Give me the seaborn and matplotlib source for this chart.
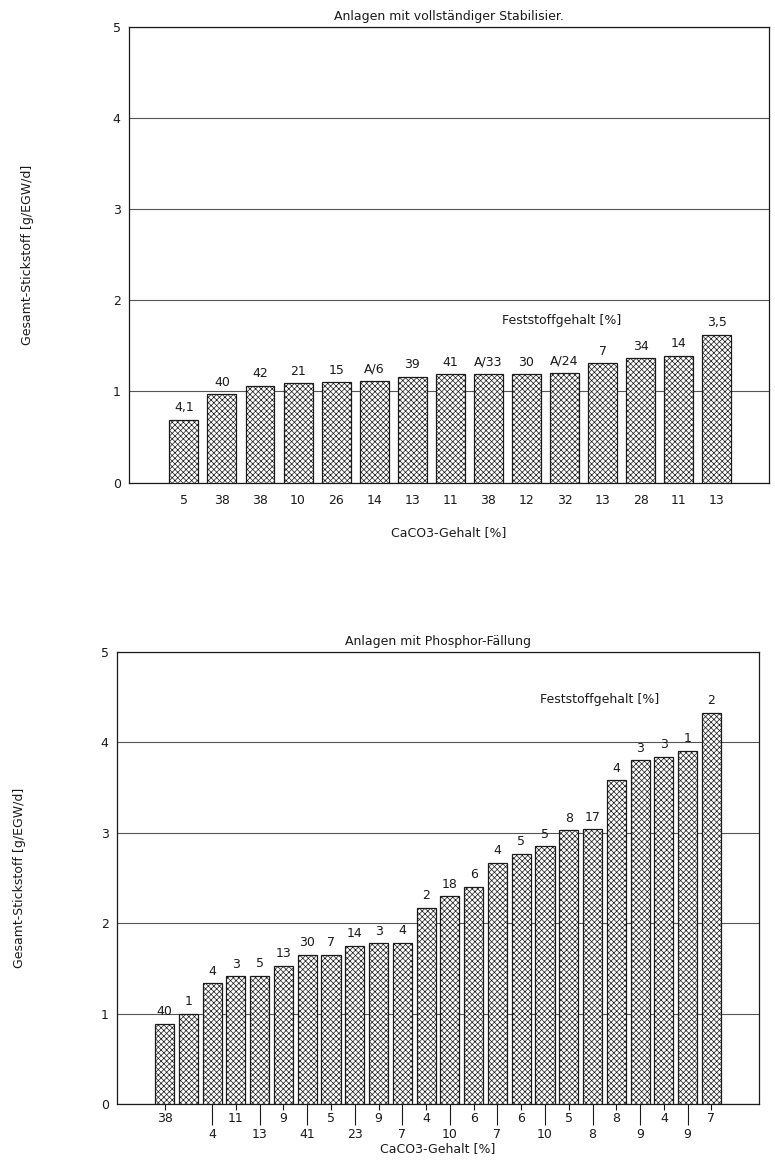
import matplotlib
matplotlib.use("Agg")
import matplotlib.pyplot as plt
import pandas as pd
import seaborn as sns

# Upper panel: plants with complete sludge stabilisation
stab_title = "Anlagen mit vollständiger Stabilisier."
stab_n_total = [0.69, 0.97, 1.06, 1.09, 1.10, 1.11, 1.16, 1.19, 1.19, 1.19,
                1.20, 1.31, 1.365, 1.39, 1.62]
stab_solids = ["4,1", "40", "42", "21", "15", "A/6", "39", "41", "A/33", "30",
               "A/24", "7", "34", "14", "3,5"]
stab_caco3 = ["5", "38", "38", "10", "26", "14", "13", "11", "38", "12",
              "32", "13", "28", "11", "13"]

# Lower panel: plants with phosphorus precipitation
phos_title = "Anlagen mit Phosphor-Fällung"
phos_n_total = [0.89, 1.00, 1.335, 1.415, 1.42, 1.53, 1.65, 1.65, 1.75, 1.78,
                1.785, 2.17, 2.30, 2.40, 2.67, 2.765, 2.85, 3.03, 3.04, 3.58,
                3.80, 3.84, 3.91, 4.33]
phos_solids = ["40", "1", "4", "3", "5", "13", "30", "7", "14", "3", "4", "2",
               "18", "6", "4", "5", "5", "8", "17", "4", "3", "3", "1", "2"]
phos_caco3 = ["38", "", "4", "11", "13", "9", "41", "5", "23", "9", "7", "4",
              "10", "6", "7", "6", "10", "5", "8", "8", "9", "4", "9", "7"]

y_label = "Gesamt-Stickstoff [g/EGW/d]"
x_label = "CaCO3-Gehalt [%]"
solids_label = "Feststoffgehalt [%]"
y_ticks = [0, 1, 2, 3, 4, 5]

sns.set_style("white")
plt.rcParams["font.family"] = ["DejaVu Sans"]
plt.rcParams["hatch.linewidth"] = 0.5
plt.rcParams["hatch.color"] = "#222222"

INK = "#1a1a1a"
GRID = "#555555"
FS = 9


def draw_panel(ax, values, solids, width, title):
    df = pd.DataFrame({"pos": list(range(len(values))), "n": values})
    sns.barplot(data=df, x="pos", y="n", ax=ax, color="white",
                edgecolor=INK, linewidth=0.9, width=width, saturation=1,
                zorder=3)
    for p in ax.patches:
        p.set_hatch("xxxxxx")
    ax.set_ylim(0, 5)
    ax.set_yticks(y_ticks)
    ax.set_yticklabels([str(t) for t in y_ticks], fontsize=FS, color=INK)
    ax.yaxis.grid(True, color=GRID, linewidth=0.8)
    ax.xaxis.grid(False)
    ax.set_axisbelow(True)
    for s in ax.spines.values():
        s.set_visible(True)
        s.set_color(INK)
        s.set_linewidth(0.9)
    ax.tick_params(axis="y", length=0, pad=6)
    for i, (v, lbl) in enumerate(zip(values, solids)):
        ax.annotate(lbl, xy=(i, v), xytext=(0, 4), textcoords="offset points",
                    ha="center", va="bottom", fontsize=FS, color=INK, zorder=4)
    ax.set_title(title, fontsize=FS, color=INK, pad=5)
    ax.set_ylabel(y_label, fontsize=FS, color=INK)


fig = plt.figure(figsize=(7.75, 11.64), dpi=100)
ax1 = fig.add_axes([129 / 775, 1 - 482.5 / 1164, 640 / 775, 455.5 / 1164])
ax2 = fig.add_axes([117 / 775, 1 - 1104 / 1164, 642 / 775, 452 / 1164])

# Upper panel
draw_panel(ax1, stab_n_total, stab_solids, 0.76, stab_title)
ax1.set_xlim(-1.44, len(stab_n_total) - 1 + 1.37)
ax1.set_xticks(range(len(stab_caco3)))
ax1.set_xticklabels(stab_caco3, fontsize=FS, color=INK)
ax1.tick_params(axis="x", length=0, pad=8)
ax1.set_xlabel(x_label, fontsize=FS, color=INK, labelpad=14)
ax1.text(11.5, 1.775, solids_label, ha="right", va="center",
         fontsize=FS, color=INK)
ax1.yaxis.set_label_coords(-0.148, 0.5)

# Lower panel: CaCO3 labels staggered on two rows
draw_panel(ax2, phos_n_total, phos_solids, 0.8, phos_title)
ax2.set_xlim(-2.0, len(phos_n_total) - 1 + 2.0)
upper_row = [i for i, c in enumerate(phos_caco3) if c and (i == 0 or i % 2 == 1)]
lower_row = [i for i, c in enumerate(phos_caco3) if c and i != 0 and i % 2 == 0]
ax2.set_xticks(upper_row)
ax2.set_xticklabels([phos_caco3[i] for i in upper_row], fontsize=FS, color=INK)
ax2.set_xticks(lower_row, minor=True)
ax2.set_xticklabels([phos_caco3[i] for i in lower_row], minor=True,
                    fontsize=FS, color=INK)
ax2.tick_params(axis="x", which="major", direction="out", length=4,
                width=0.8, color=INK, pad=2, bottom=True)
ax2.tick_params(axis="x", which="minor", direction="out", length=15,
                width=0.8, color=INK, pad=2, bottom=True)
ax2.set_xlabel(x_label, fontsize=FS, color=INK, labelpad=1)
ax2.text(20.8, 4.47, solids_label, ha="right", va="center",
         fontsize=FS, color=INK)
ax2.yaxis.set_label_coords(-0.142, 0.5)

fig.savefig("out.png", dpi=100, facecolor="white")
